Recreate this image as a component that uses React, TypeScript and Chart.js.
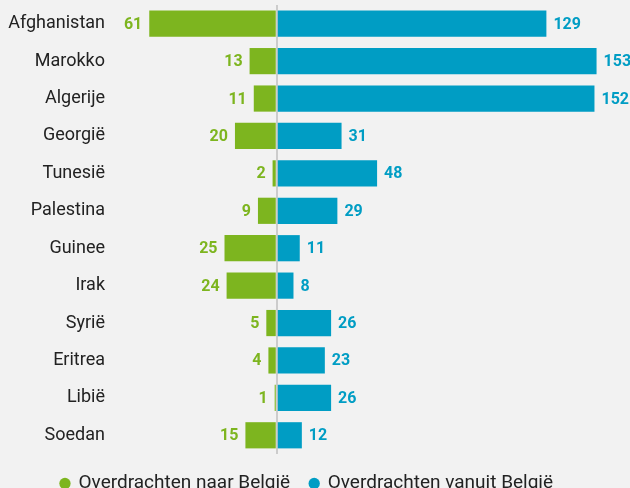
import React, { useEffect, useRef } from "react";
import { Chart, registerables } from "chart.js";

Chart.register(...registerables);

const categories = [
  "Afghanistan", "Marokko", "Algerije", "Georgië", "Tunesië", "Palestina",
  "Guinee", "Irak", "Syrië", "Eritrea", "Libië", "Soedan",
];
const naarBelgie = [61, 13, 11, 20, 2, 9, 25, 24, 5, 4, 1, 15];
const vanuitBelgie = [129, 153, 152, 31, 48, 29, 11, 8, 26, 23, 26, 12];
const seriesNames = ["Overdrachten naar België", "Overdrachten vanuit België"];

const GREEN = "#7db51f";
const BLUE = "#009dc4";
const FONT = "Roboto, 'Open Sans', sans-serif";

const valueLabels = {
  id: "valueLabels",
  afterDatasetsDraw(chart: any) {
    const ctx = chart.ctx;
    ctx.save();
    ctx.font = `bold 16px ${FONT}`;
    ctx.textBaseline = "middle";
    chart.data.datasets.forEach((ds: any, di: number) => {
      const meta = chart.getDatasetMeta(di);
      meta.data.forEach((el: any, i: number) => {
        const v = ds.data[i];
        ctx.fillStyle = ds.backgroundColor;
        if (v < 0) {
          ctx.textAlign = "right";
          ctx.fillText(String(-v), el.x - 7, el.y + 1);
        } else {
          ctx.textAlign = "left";
          ctx.fillText(String(v), el.x + 7, el.y + 1);
        }
      });
    });
    ctx.restore();
  },
};

const legendShift = {
  id: "legendShift",
  afterLayout(chart: any) {
    const lg = chart.legend;
    if (lg) {
      lg.left -= 8;
      lg.right -= 8;
    }
  },
};

export default function App() {
  const ref = useRef<HTMLCanvasElement>(null);
  useEffect(() => {
    document.body.style.margin = "0";
    document.body.style.overflow = "hidden";
    document.body.style.background = "#f2f2f2";
    const chart = new Chart(ref.current!, {
      type: "bar",
      data: {
        labels: categories,
        datasets: [
          {
            label: seriesNames[0],
            data: naarBelgie.map((v) => -v),
            backgroundColor: GREEN,
            barPercentage: 0.7,
            categoryPercentage: 1,
          },
          {
            label: seriesNames[1],
            data: vanuitBelgie,
            backgroundColor: BLUE,
            barPercentage: 0.7,
            categoryPercentage: 1,
          },
        ],
      },
      options: {
        indexAxis: "y",
        animation: false,
        responsive: false,
        layout: { padding: { top: 5, left: 0, right: 0, bottom: 0 } },
        scales: {
          x: {
            stacked: true,
            min: -75,
            max: 169,
            ticks: { display: false, stepSize: 75 },
            border: { display: false },
            grid: {
              drawTicks: false,
              color: (c: any) => (c.tick && c.tick.value === 0 ? "#cccccc" : "rgba(0,0,0,0)"),
              lineWidth: 2,
            },
            afterBuildTicks: (s: any) => {
              s.ticks = [{ value: 0 }];
            },
          },
          y: {
            stacked: true,
            border: { display: false },
            grid: { display: false, drawTicks: false },
            ticks: {
              padding: 15,
              color: "#222222",
              font: { family: FONT, size: 18 },
            },
            afterFit: (s: any) => {
              s.width = 120;
              s.paddingTop = 0;
              s.paddingBottom = 0;
            },
          },
        },
        plugins: {
          legend: {
            position: "bottom",
            labels: {
              usePointStyle: true,
              pointStyle: "circle",
              boxWidth: 8,
              boxHeight: 8,
              padding: 20,
              color: "#222222",
              font: { family: FONT, size: 19 },
            },
          },
          tooltip: { enabled: false },
        },
      },
      plugins: [valueLabels, legendShift],
    } as any);
    return () => chart.destroy();
  }, []);
  return (
    <div style={{ width: 630, height: 488, overflow: "hidden", background: "#f2f2f2" }}>
      <canvas ref={ref} width={630} height={503} style={{ display: "block" }} />
    </div>
  );
}
